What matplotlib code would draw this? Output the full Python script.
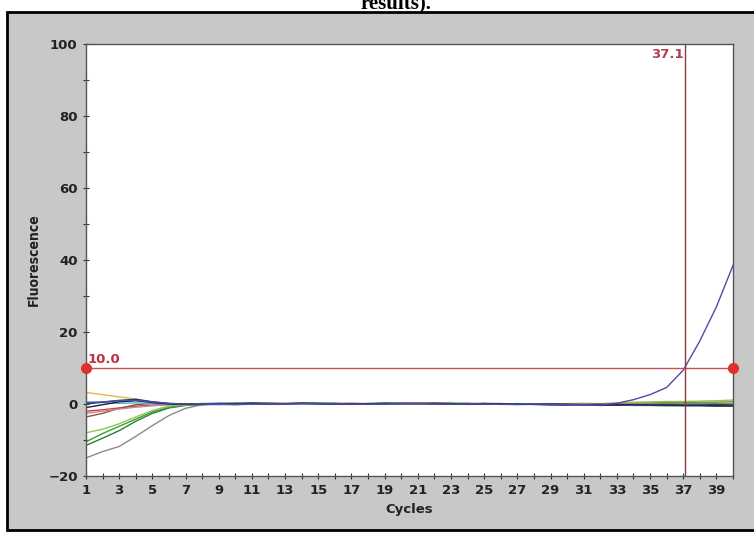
import matplotlib
matplotlib.use("Agg")
import matplotlib.pyplot as plt
from matplotlib.patches import Rectangle

cycles = list(range(1, 41))

# amplification curves, one list per well (fluorescence per cycle)
purple = [0.3, 0.6, 0.9, 1.0, 0.6, 0.2, 0.0, 0.1, 0.0, -0.1, 0.0, 0.1, 0.0, 0.1, 0.2, 0.1, 0.0, -0.1, 0.0, 0.1,
          0.1, 0.0, 0.0, 0.1, 0.0, -0.1, 0.0, 0.0, -0.1, -0.2, -0.2, -0.3, 0.2, 1.2, 2.6, 4.6, 9.4, 17.5, 27.0, 38.5]
green1 = [-8.0, -7.0, -5.5, -3.6, -1.8, -0.6, -0.1, 0.1, 0.0, -0.3, 0.0, 0.2, 0.1, 0.0, 0.3, 0.2, 0.1, 0.0, 0.2, 0.1,
          0.0, 0.3, 0.4, 0.2, 0.0, 0.1, 0.0, -0.1, 0.0, 0.1, 0.2, 0.1, 0.3, 0.5, 0.6, 0.7, 0.7, 0.8, 0.9, 1.1]
green2 = [-10.5, -8.2, -6.2, -4.2, -2.2, -0.9, -0.3, -0.1, 0.0, 0.1, 0.2, 0.1, 0.0, 0.2, 0.3, 0.1, 0.0, 0.1, 0.2, 0.0,
          -0.1, 0.1, 0.2, 0.1, 0.0, 0.0, 0.1, 0.0, -0.1, 0.0, 0.1, 0.0, 0.2, 0.3, 0.3, 0.4, 0.4, 0.5, 0.5, 0.6]
dkgreen = [-11.5, -9.5, -7.4, -4.8, -2.6, -1.1, -0.4, -0.2, -0.1, 0.0, 0.1, 0.0, 0.1, 0.0, 0.1, 0.2, 0.0, -0.1, 0.0, 0.1,
           0.0, 0.1, 0.0, -0.1, 0.0, 0.1, 0.0, -0.1, -0.2, -0.1, -0.2, -0.3, -0.3, -0.4, -0.4, -0.5, -0.5, -0.5, -0.6, -0.6]
gray = [-15.0, -13.2, -11.8, -9.0, -6.0, -3.2, -1.2, -0.2, 0.1, 0.0, 0.1, 0.2, 0.1, 0.0, 0.1, 0.0, -0.1, 0.0, 0.1, 0.0,
        0.1, 0.0, 0.1, 0.2, 0.1, 0.0, -0.1, 0.0, 0.1, 0.0, -0.1, -0.2, -0.1, -0.2, -0.3, -0.3, -0.2, -0.3, -0.3, -0.4]
yellow = [3.2, 2.6, 2.0, 1.4, 0.6, 0.1, -0.2, -0.1, 0.0, 0.1, 0.0, 0.1, 0.2, 0.1, 0.0, 0.1, 0.0, 0.1, 0.0, 0.1,
          0.2, 0.1, 0.0, 0.1, 0.0, 0.0, 0.1, 0.0, 0.0, -0.1, 0.0, -0.1, 0.0, 0.1, 0.0, 0.1, 0.0, 0.1, 0.1, 0.2]
red = [-2.0, -1.6, -1.1, -0.6, -0.3, -0.1, 0.0, 0.1, 0.0, 0.1, 0.0, 0.0, 0.1, 0.2, 0.1, 0.0, 0.0, 0.1, 0.0, 0.1,
       0.1, 0.2, 0.1, 0.0, 0.1, 0.0, 0.1, 0.0, -0.1, 0.0, -0.1, -0.1, 0.0, 0.0, 0.1, 0.0, 0.0, 0.1, 0.0, 0.1]
brown = [-3.6, -2.6, -1.2, -0.2, 0.2, 0.1, 0.0, 0.1, 0.0, -0.1, 0.0, 0.1, 0.0, 0.1, 0.0, 0.1, 0.2, 0.1, 0.0, 0.0,
         0.1, 0.0, 0.1, 0.0, 0.2, 0.1, 0.0, 0.0, -0.1, -0.1, 0.0, -0.1, -0.2, -0.1, 0.0, -0.1, -0.1, 0.0, -0.1, 0.0]
black = [-1.0, -0.2, 0.6, 0.9, 0.4, 0.0, -0.1, 0.0, 0.1, 0.2, 0.1, 0.0, 0.1, 0.2, 0.1, 0.1, 0.0, 0.1, 0.2, 0.1,
         0.2, 0.1, 0.0, 0.1, 0.0, 0.1, 0.0, -0.1, 0.0, -0.1, -0.2, -0.1, -0.2, -0.2, -0.3, -0.3, -0.4, -0.4, -0.5, -0.5]
pink = [-2.6, -2.0, -1.4, -0.9, -0.5, -0.2, -0.1, 0.0, 0.1, 0.0, 0.1, 0.0, 0.0, 0.1, 0.0, 0.1, 0.0, 0.0, 0.1, 0.0,
        0.0, 0.1, 0.0, 0.1, 0.0, 0.0, 0.1, 0.0, 0.0, -0.1, 0.0, 0.0, -0.1, 0.0, 0.0, -0.1, 0.0, 0.0, -0.1, 0.0]
cyan = [0.6, 0.4, 0.2, 0.3, 0.1, 0.0, 0.1, 0.0, -0.2, -0.1, 0.0, 0.1, 0.0, -0.1, 0.0, 0.1, 0.0, 0.1, 0.2, 0.3,
        0.2, 0.1, 0.0, 0.1, 0.0, -0.1, -0.2, -0.1, -0.3, -0.2, -0.1, -0.2, -0.2, -0.3, -0.3, -0.3, -0.4, -0.4, -0.4, -0.4]
dkblue = [0.0, 0.5, 1.0, 1.3, 0.6, 0.1, 0.0, 0.1, 0.2, 0.1, 0.3, 0.2, 0.1, 0.2, 0.1, 0.0, 0.1, 0.0, 0.1, 0.2,
          0.1, 0.2, 0.1, 0.0, 0.1, 0.0, 0.0, -0.1, -0.2, -0.3, -0.2, -0.4, -0.3, -0.2, -0.3, -0.2, -0.3, -0.3, -0.2, -0.3]

curves = [gray, dkgreen, green2, green1, yellow, red, brown, pink, cyan, black, dkblue, purple]
colors = ["#8a8a8a", "#2e7d32", "#3aa03a", "#8cc850", "#e8b840", "#d04040", "#8b5a2b", "#d080a0",
          "#40b8d8", "#202020", "#1e2f78", "#5548a8"]

threshold = 10.0
ct = 37.1

fig = plt.figure(figsize=(7.54, 5.37), dpi=100)
W, H = 754, 537

# gray panel with black frame, kept behind the axes
fig.patches.append(Rectangle((7 / W, 1 - 530 / H), (W - 7 + 5) / W, (530 - 12) / H, transform=fig.transFigure,
                             facecolor="#c8c8c8", edgecolor="black", linewidth=2, zorder=-10))

fig.text(0.525, 1 - 8 / H, "results).", ha="center", va="baseline", fontsize=15,
         family="Liberation Serif", weight="bold")

ax = fig.add_axes([86 / W, 1 - 476 / H, (733 - 86) / W, (476 - 44) / H], zorder=5)
ax.set_facecolor("white")

for vals, c in zip(curves, colors):
    ax.plot(cycles, vals, color=c, linewidth=1.0)

ax.axhline(threshold, color="#c85050", linewidth=1.0)
ax.axvline(ct, color="#8b3a3a", linewidth=1.0)
ax.plot([1, 40], [threshold, threshold], "o", color="#e03030", markersize=7, clip_on=False, zorder=5)
ax.text(1.1, threshold + 0.6, "10.0", color="#c03040", fontsize=9.5, weight="bold", va="bottom")
ax.text(ct - 0.05, 99, "37.1", color="#b04050", fontsize=9.5, weight="bold", ha="right", va="top")

ax.set_xlim(1, 40)
ax.set_ylim(-20, 100)
ax.set_xticks(range(1, 40, 2))
ax.set_xticks(range(1, 41), minor=True)
ax.set_yticks(range(-20, 101, 20))
ax.set_yticks(range(-20, 101, 10), minor=True)
ax.tick_params(direction="inout", length=5, width=0.8, colors="#333333", labelsize=9.5)
ax.tick_params(which="minor", direction="inout", length=4, width=0.8, colors="#333333")
for lab in ax.get_xticklabels() + ax.get_yticklabels():
    lab.set_fontweight("bold")
    lab.set_color("#222222")
for s in ax.spines.values():
    s.set_color("#555555")
    s.set_linewidth(1.0)

ax.set_xlabel("Cycles", fontsize=9.5, weight="bold", color="#222222", labelpad=4)
ax.set_ylabel("Fluorescence", fontsize=10, color="#222222", weight="bold", stretch="condensed")
ax.yaxis.set_label_coords(-0.07, 0.5)

fig.savefig("out.png", dpi=100)
